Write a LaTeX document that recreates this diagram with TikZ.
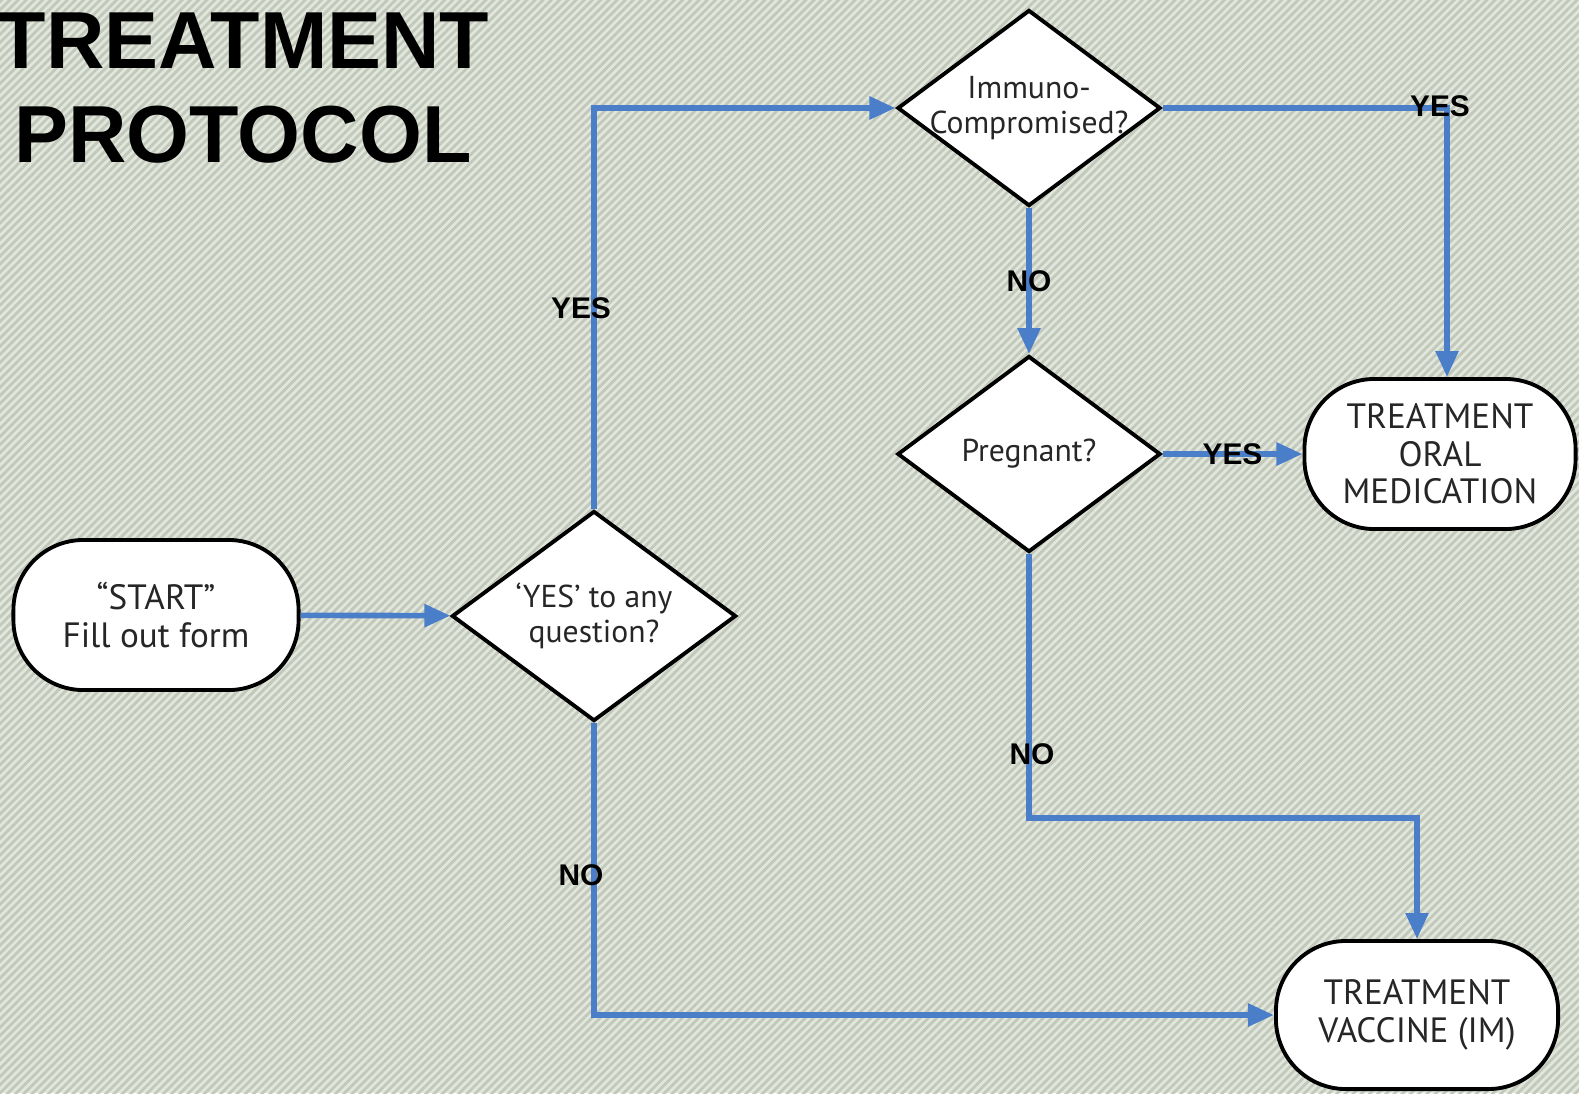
\documentclass[tikz,border=0pt]{standalone}
\usepackage{fontspec}
\setmainfont{Liberation Sans}
\newfontfamily\boxfont{PT Sans}
\usetikzlibrary{shapes.geometric,arrows.meta,patterns.meta}
\definecolor{bgcol}{RGB}{226,231,220}
\definecolor{stripecol}{RGB}{194,200,188}
\definecolor{flowblue}{RGB}{74,126,200}

\begin{document}
\begin{tikzpicture}[
                    x=0.01cm, y=-0.01cm,
                    >={Triangle[length=2.6mm,width=2.2mm]},
                    terminal/.style={draw, line width=1.1pt, fill=white, rectangle, rounded corners=0.7cm, minimum width=2.85cm, minimum height=1.5cm, align=center, text=black!85, font=\boxfont\fontsize{10}{10.7}\selectfont},
                    decision/.style={draw, line width=1.1pt, fill=white, diamond, aspect=1.34, inner xsep=-0.13cm, inner ysep=0pt, minimum width=2.63cm, minimum height=1.96cm, align=center, text=black!85, font=\boxfont\fontsize{9}{10}\selectfont},
                    flow/.style={flowblue, line width=1.6pt, ->},
                    answer/.style={font=\bfseries\fontsize{8.5}{10}\selectfont, text=black, inner sep=0pt}
                    ]

                    % background
                    \useasboundingbox (0,0) rectangle (1579,1093);
                    \fill[bgcol] (0,0) rectangle (1579,1093);
                    \fill[pattern={Lines[angle=45,distance=1.65pt,line width=0.8pt]}, pattern color=stripecol] (0,0) rectangle (1579,1093);

                    \node [font=\bfseries\fontsize{23}{26.5}\selectfont, align=center, inner sep=0pt] (title) at (243,88) {TREATMENT\\PROTOCOL};

                    \node [terminal] (start) at (156,615) {“START”\\Fill out form};
                    \node [decision, minimum width=2.84cm, minimum height=2.1cm] (anyyes) at (594,616) {‘YES’ to any\\question?};
                    \node [decision] (immuno) at (1029,108) {Immuno-\\Compromised?};
                    \node [decision] (pregnant) at (1029,454) {Pregnant?};
                    \node [terminal, minimum width=2.71cm] (oral) at (1440,454) {TREATMENT\\ORAL\\MEDICATION};
                    \node [terminal, minimum width=2.82cm, minimum height=1.48cm] (vaccine) at (1417,1015) {TREATMENT\\VACCINE (IM)};
                    \coordinate (turn) at (1417,818);

                    \draw[flow] (start) -- (anyyes);
                    \draw[flow] (anyyes.north) |- node[answer, pos=0.25, xshift=-0.13cm]{YES} (immuno.west);
                    \draw[flow] (anyyes.south) |- node[answer, pos=0.26, xshift=-0.13cm]{NO} (vaccine.west);
                    \draw[flow] (immuno.east) -| node[answer, pos=0.5, xshift=-0.07cm, yshift=0.02cm]{YES} ([xshift=0.07cm]oral.north);
                    \draw[flow] (immuno.south) -- node[answer]{NO} (pregnant.north);
                    \draw[flow] (pregnant.east) -- node[answer]{YES} (oral.west);
                    \draw[flow] (pregnant.south) -- node[answer, pos=0.76, xshift=0.03cm]{NO} (pregnant.south |- turn) -- (turn) -- (vaccine.north);
                \end{tikzpicture}
\end{document}
